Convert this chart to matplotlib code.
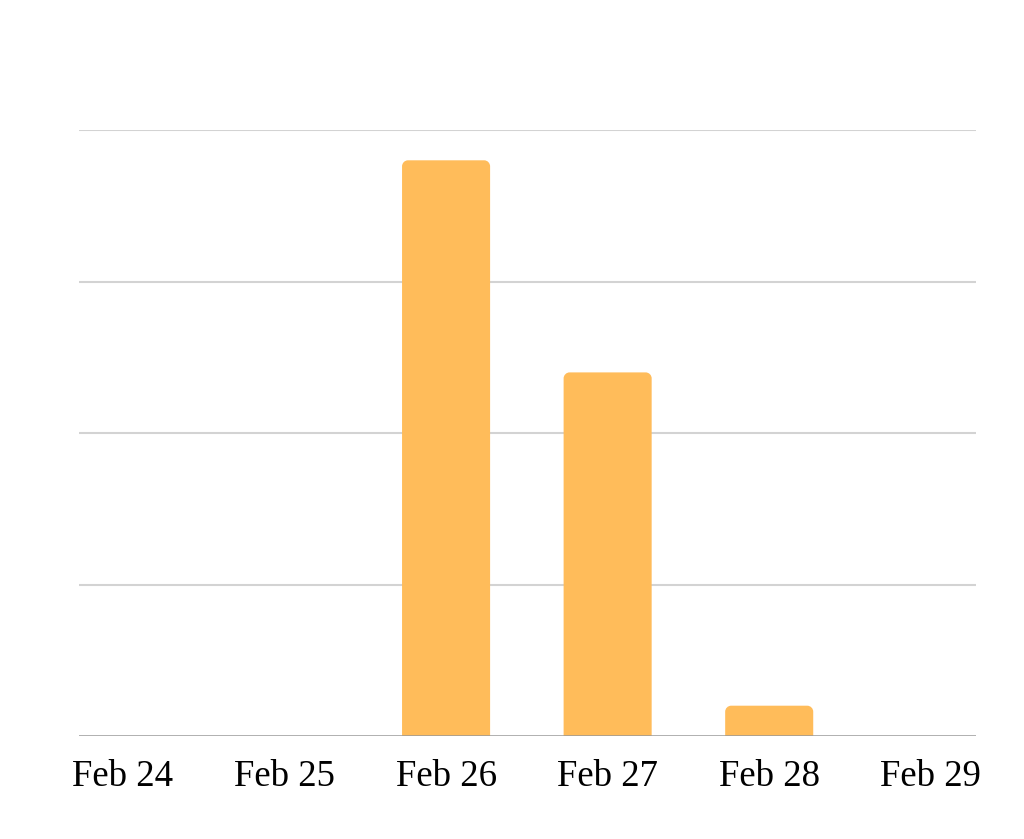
import matplotlib
matplotlib.use("Agg")
import matplotlib.pyplot as plt
from matplotlib.path import Path
from matplotlib.patches import PathPatch

plt.rcParams['font.family'] = ['Liberation Serif', 'DejaVu Serif']

# data (grid step taken as 5)
days = ["Feb 24", "Feb 25", "Feb 26", "Feb 27", "Feb 28", "Feb 29"]
counts = [0, 0, 19, 12, 1, 0]
grid_values = [0, 5, 10, 15, 20]

bar_color = '#FFBC5A'

fig = plt.figure(figsize=(10.24, 8.39), dpi=100)
ax = fig.add_axes([79 / 1024, 1 - 736 / 839, (976 - 79) / 1024, (736 - 130) / 839])

ax.set_xlim(-0.272, 5.28)
ax.set_ylim(0, 20)

width = 0.545
# data units per pixel, so the corners stay round
px_x = (5.28 + 0.272) / (976 - 79)
px_y = 20 / (736 - 130)
rx, ry = 6 * px_x, 6 * px_y
k = 0.5523  # bezier circle constant


def top_rounded(x0, w, h):
    x1 = x0 + w
    verts = [(x0, 0), (x0, h - ry),
             (x0, h - ry + k * ry), (x0 + rx - k * rx, h), (x0 + rx, h),
             (x1 - rx, h),
             (x1 - rx + k * rx, h), (x1, h - ry + k * ry), (x1, h - ry),
             (x1, 0), (x0, 0)]
    codes = [Path.MOVETO, Path.LINETO,
             Path.CURVE4, Path.CURVE4, Path.CURVE4,
             Path.LINETO,
             Path.CURVE4, Path.CURVE4, Path.CURVE4,
             Path.LINETO, Path.CLOSEPOLY]
    return Path(verts, codes)


for i, v in enumerate(counts):
    if v <= 0:
        continue
    ax.add_patch(PathPatch(top_rounded(i - width / 2, width, v),
                           fc=bar_color, ec='none', zorder=3))

for g in grid_values[1:]:
    ax.axhline(g, color='#d3d3d3', lw=1.5, zorder=1)
ax.axhline(0, color='#999999', lw=1.8, zorder=4)

ax.set_xticks(range(len(days)))
ax.set_xticklabels(days, fontsize=26.5)
ax.tick_params(axis='x', length=0, pad=17)
ax.set_yticks([])
for s in ax.spines.values():
    s.set_visible(False)

fig.savefig("out.png", dpi=100, facecolor='white')
